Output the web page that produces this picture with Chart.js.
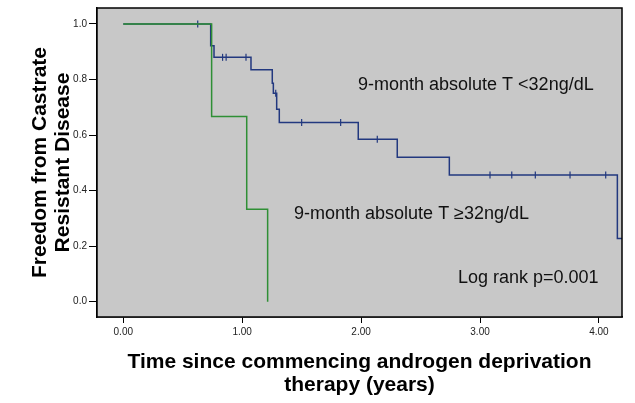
<!DOCTYPE html>
<html>
<head>
<meta charset="utf-8">
<script src="https://cdn.jsdelivr.net/npm/chart.js@4"></script>
<style>
  html, body { margin: 0; padding: 0; background: #fff; }
  #wrap { width: 635px; height: 403px; }
</style>
</head>
<body>
<div id="wrap"><canvas id="kmChart" width="635" height="403"></canvas></div>
<script>
// Kaplan-Meier data (time in years, survival fraction)
const lowTTimes = [0, 0.735, 0.763, 1.074, 1.253, 1.262, 1.29, 1.312, 1.976, 2.304, 2.742, 4.155, 4.194];
const lowTSurv  = [1, 0.922, 0.88, 0.835, 0.787, 0.751, 0.693, 0.645, 0.585, 0.52, 0.456, 0.228, 0.228];

const lowTCensorTimes = [0.626, 0.835, 0.865, 1.032, 1.282, 1.5, 1.828, 2.136, 3.084, 3.267, 3.465, 3.757, 4.057];
const lowTCensorSurv  = [1, 0.88, 0.88, 0.88, 0.751, 0.645, 0.645, 0.585, 0.456, 0.456, 0.456, 0.456, 0.456];

const highTTimes = [0, 0.743, 1.038, 1.214];
const highTSurv  = [1, 0.667, 0.333, 0];

const xTickValues = [0, 1, 2, 3, 4];
const yTickValues = [0, 0.2, 0.4, 0.6, 0.8, 1.0];

const labelLow  = '9-month absolute T <32ng/dL';
const labelHigh = '9-month absolute T \u226532ng/dL';
const labelLogRank = 'Log rank p=0.001';

const FONT = 'Liberation Sans, Arial, sans-serif';

function toPoints(xs, ys) {
    return xs.map((x, i) => ({ x: x, y: ys[i] }));
}

// grey plot area, frame and the text notes inside the plot
const plotDecor = {
    id: 'plotDecor',
    beforeDatasetsDraw(chart) {
        const { ctx, chartArea: a } = chart;
        ctx.save();
        ctx.fillStyle = '#c8c8c8';
        ctx.fillRect(a.left, a.top, a.right - a.left, a.bottom - a.top);
        ctx.restore();
    },
    afterDraw(chart) {
        const { ctx, chartArea: a, scales } = chart;
        ctx.save();
        ctx.strokeStyle = '#000';
        ctx.lineWidth = 1.5;
        ctx.strokeRect(a.left, a.top, a.right - a.left, a.bottom - a.top);

        ctx.fillStyle = '#111';
        ctx.font = '18px ' + FONT;
        ctx.textBaseline = 'middle';
        ctx.textAlign = 'left';
        ctx.fillText(labelLow, scales.x.getPixelForValue(1.974), scales.y.getPixelForValue(0.781));
        ctx.fillText(labelHigh, scales.x.getPixelForValue(1.436), scales.y.getPixelForValue(0.317));
        ctx.fillText(labelLogRank, scales.x.getPixelForValue(2.815), scales.y.getPixelForValue(0.086));
        ctx.restore();
    }
};

const ctx = document.getElementById('kmChart');

new Chart(ctx.getContext('2d'), {
    type: 'scatter',
    data: {
        datasets: [
            {
                label: 'T >= 32ng/dL',
                data: toPoints(highTTimes, highTSurv),
                showLine: true,
                stepped: true,
                borderColor: '#2f8f35',
                borderWidth: 1.5,
                pointRadius: 0,
                fill: false
            },
            {
                label: 'T < 32ng/dL',
                data: toPoints(lowTTimes, lowTSurv),
                showLine: true,
                stepped: true,
                borderColor: '#22387f',
                borderWidth: 1.5,
                pointRadius: 0,
                fill: false
            },
            {
                label: 'censored',
                data: toPoints(lowTCensorTimes, lowTCensorSurv),
                showLine: false,
                pointStyle: 'line',
                rotation: 90,
                pointRadius: 3.5,
                borderColor: '#22387f',
                borderWidth: 1.2
            }
        ]
    },
    options: {
        responsive: false,
        animation: false,
        layout: { padding: { top: 8, right: 13, left: 0, bottom: 0 } },
        plugins: {
            legend: { display: false },
            tooltip: { enabled: false }
        },
        scales: {
            x: {
                type: 'linear',
                min: -0.221,
                max: 4.194,
                afterBuildTicks: (scale) => { scale.ticks = xTickValues.map(v => ({ value: v })); },
                afterFit: (scale) => { scale.height = 86; },
                ticks: {
                    callback: (v) => Number(v).toFixed(2),
                    color: '#222',
                    font: { family: FONT, size: 10 },
                    padding: 3,
                    maxRotation: 0
                },
                grid: {
                    drawOnChartArea: false,
                    drawTicks: true,
                    tickLength: 6,
                    color: '#000'
                },
                border: { display: true, color: '#000', width: 1.5 },
                title: {
                    display: true,
                    text: ['Time since commencing androgen deprivation', 'therapy (years)'],
                    color: '#000',
                    font: { family: FONT, size: 21, weight: 'bold', lineHeight: 1.1 },
                    padding: { top: 0, bottom: 6 }
                }
            },
            y: {
                type: 'linear',
                min: -0.055,
                max: 1.0576,
                afterBuildTicks: (scale) => { scale.ticks = yTickValues.map(v => ({ value: v })); },
                afterFit: (scale) => { scale.width = 97; },
                ticks: {
                    callback: (v) => Number(v).toFixed(1),
                    color: '#222',
                    font: { family: FONT, size: 10 },
                    padding: 2
                },
                grid: {
                    drawOnChartArea: false,
                    drawTicks: true,
                    tickLength: 8,
                    color: '#000'
                },
                border: { display: true, color: '#000', width: 1.5 },
                title: {
                    display: true,
                    text: ['Freedom from Castrate', 'Resistant Disease'],
                    color: '#000',
                    font: { family: FONT, size: 21, weight: 'bold', lineHeight: 1.1 },
                    padding: { top: 29, bottom: 0 }
                }
            }
        }
    },
    plugins: [plotDecor]
});
</script>
</body>
</html>
